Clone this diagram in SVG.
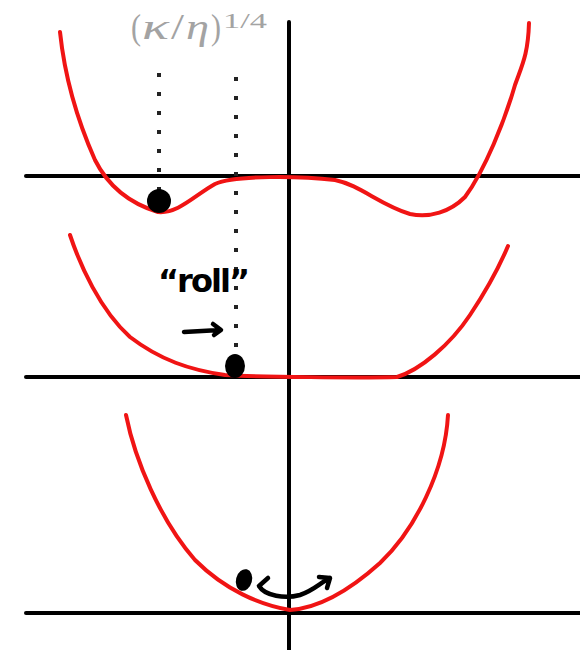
<svg xmlns="http://www.w3.org/2000/svg" width="580" height="650" viewBox="0 0 580 650">
<style>
.axis{stroke:#000;stroke-width:4;fill:none;stroke-linecap:round}
.curve{stroke:#f01414;stroke-width:4;fill:none;stroke-linecap:round;stroke-linejoin:round}
.dots{stroke:#222;stroke-width:4;stroke-dasharray:4 15;fill:none}
.ink{stroke:#000;stroke-width:4.5;fill:none;stroke-linecap:round;stroke-linejoin:round}
.ball{fill:#000}
.math{font-family:"Liberation Serif","DejaVu Serif",serif;fill:#a3a3a3}
.hand{font-family:"DejaVu Sans","Liberation Sans",sans-serif;font-weight:bold;fill:#000}
</style>
<rect width="580" height="650" fill="#fff"/>
<g id="axes">
<line class="axis" x1="289" y1="22" x2="289" y2="650"/>
<line class="axis" x1="26" y1="176" x2="580" y2="176"/>
<line class="axis" x1="26" y1="377" x2="580" y2="377"/>
<line class="axis" x1="26" y1="613" x2="580" y2="613"/>
</g>
<g id="label-kappa-eta">
<text class="math" x="131" y="39" font-size="35" textLength="10" lengthAdjust="spacingAndGlyphs">(</text>
<text class="math" x="142" y="39" font-size="35" font-style="italic" textLength="27" lengthAdjust="spacingAndGlyphs">κ</text>
<text class="math" x="171" y="39" font-size="35" textLength="13" lengthAdjust="spacingAndGlyphs">/</text>
<text class="math" x="186" y="39" font-size="35" font-style="italic" textLength="23" lengthAdjust="spacingAndGlyphs">η</text>
<text class="math" x="211" y="39" font-size="35" textLength="10" lengthAdjust="spacingAndGlyphs">)</text>
<text class="math" x="223" y="28" font-size="22" textLength="44" lengthAdjust="spacingAndGlyphs">1/4</text>
</g>
<g id="connectors">
<line class="dots" x1="159" y1="73" x2="159" y2="196"/>
<line class="dots" x1="236" y1="77" x2="236" y2="358"/>
<path class="ink" d="M184,332 L220,330 M213,324 L221,330 L214,335"/>
<path class="ink" d="M259,586 C265,596 285,599 300,595 C313,591 320,583 330,578 M268,578 L259,586 M319,577 L330,578 L327,588"/>
</g>
<g id="potential-top">
<path class="curve" d="M60,32 C64,70 75,115 95,160 C110,190 135,205 158,212 C178,214 195,195 215,184 C235,175 300,176 335,180 C360,185 380,205 410,214 C430,218 450,212 465,197 C485,170 505,120 515,85 C522,65 528,55 529,23"/>
<circle id="ball-top" class="ball" cx="159" cy="201" r="12"/>
</g>
<g id="potential-middle">
<path class="curve" d="M70,235 C80,265 100,310 130,337 C160,360 190,370 225,375 C260,377 360,378 397,377 C420,370 450,345 470,315 C490,285 500,265 508,246"/>
<ellipse id="ball-middle" class="ball" cx="235" cy="366" rx="10" ry="12"/>
<text id="roll" class="hand" x="158" y="292" font-size="32" textLength="92" lengthAdjust="spacing">“roll”</text>
</g>
<g id="potential-bottom">
<path class="curve" d="M126,415 C135,460 160,520 195,560 C225,590 260,605 290,610 C320,608 350,590 380,563 C415,530 445,470 448,415"/>
<ellipse id="ball-bottom" class="ball" cx="244" cy="580" rx="8" ry="11" transform="rotate(15 244 580)"/>
</g>
</svg>
